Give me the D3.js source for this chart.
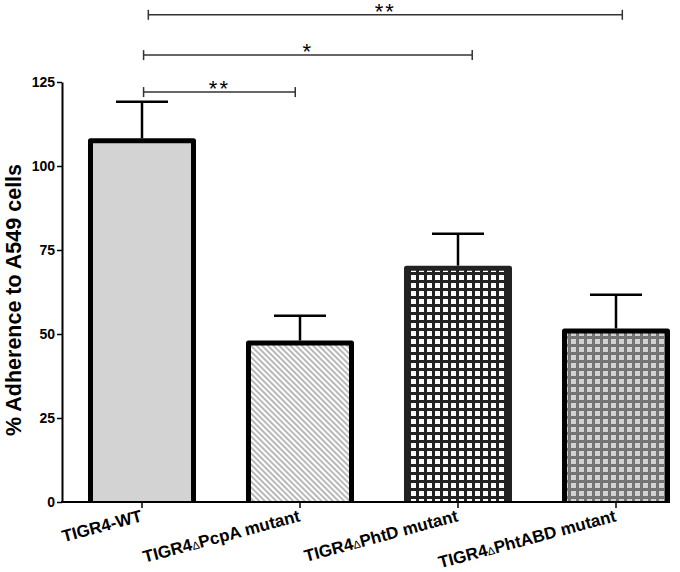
<!DOCTYPE html>
<html>
<head>
<meta charset="utf-8">
<script src="https://cdn.jsdelivr.net/npm/d3@7"></script>
<style>
  html, body { margin: 0; padding: 0; background: #fff; }
  svg { display: block; }
  text { font-family: "Liberation Sans", Arial, Helvetica, sans-serif; }
</style>
</head>
<body>
<div id="chart"></div>
<script>
// ---- data ----
const categories = ["TIGR4-WT", "TIGR4\u0394PcpA mutant", "TIGR4\u0394PhtD mutant", "TIGR4\u0394PhtABD mutant"];
const means = [107.5, 47.3, 69.6, 50.9];
const errors = [11.6, 8.1, 10.2, 10.8];
const yTicks = [0, 25, 50, 75, 100, 125];
const yTitle = "% Adherence to A549 cells";
const bracketFrom = [0.01, 0.01, 0.04];   // in category-position units
const bracketTo = [0.97, 2.09, 3.04];
const bracketY = [122, 133, 145];
const bracketLabel = ["**", "*", "**"];

// ---- layout ----
const W = 680, H = 572;
const svg = d3.select("#chart").append("svg").attr("width", W).attr("height", H);

const x = d3.scaleBand().domain(categories).range([63, 695]).paddingInner(0.348).paddingOuter(0.174);
const y = d3.scaleLinear().domain([0, 125]).range([502, 82]);
const pos = d3.scaleLinear().domain([0, 1])
  .range([x(categories[0]) + x.bandwidth() / 2, x(categories[1]) + x.bandwidth() / 2]);

// ---- patterns ----
const defs = svg.append("defs");
const hatch = defs.append("pattern").attr("id", "hatch").attr("patternUnits", "userSpaceOnUse")
  .attr("width", 4).attr("height", 4).attr("patternTransform", "rotate(-45)");
hatch.append("rect").attr("width", 4).attr("height", 4).attr("fill", "#fff");
hatch.append("line").attr("x1", 1).attr("y1", 0).attr("x2", 1).attr("y2", 4)
  .attr("stroke", "#9a9a9a").attr("stroke-width", 1.4);

function grid(id, lineCol, bgCol) {
  const p = defs.append("pattern").attr("id", id).attr("patternUnits", "userSpaceOnUse")
    .attr("width", 8).attr("height", 8);
  p.append("rect").attr("width", 8).attr("height", 8).attr("fill", lineCol);
  p.append("rect").attr("x", 3).attr("y", 3).attr("width", 5).attr("height", 5).attr("fill", bgCol);
}
grid("gridDark", "#222", "#fff");
grid("gridGray", "#747474", "#d2d2d2");

const fills = ["#d3d3d3", "url(#hatch)", "url(#gridDark)", "url(#gridGray)"];
const strokes = ["#000", "#000", "#222", "#000"];

// ---- bars ----
const bars = svg.append("g");
categories.forEach((c, i) => {
  const x0 = x(c), x1 = x(c) + x.bandwidth();
  bars.append("rect").attr("x", x0).attr("y", y(means[i]))
    .attr("width", x.bandwidth()).attr("height", y(0) - y(means[i]))
    .attr("fill", fills[i]);
  bars.append("path")
    .attr("d", `M${x0},${y(0)}V${y(means[i])}H${x1}V${y(0)}`)
    .attr("fill", "none").attr("stroke", strokes[i]).attr("stroke-width", 5)
    .attr("stroke-linejoin", "round");
  // error bar (upper)
  const cx = x(c) + x.bandwidth() / 2;
  const top = y(means[i] + errors[i]);
  bars.append("line").attr("x1", cx).attr("x2", cx).attr("y1", y(means[i]) - 2.5).attr("y2", top)
    .attr("stroke", "#000").attr("stroke-width", 2.5);
  bars.append("line").attr("x1", cx - 26).attr("x2", cx + 26).attr("y1", top).attr("y2", top)
    .attr("stroke", "#000").attr("stroke-width", 2.5);
});

// ---- y axis ----
const yAxis = svg.append("g").attr("transform", `translate(62,0)`)
  .call(d3.axisLeft(y).tickValues(yTicks).tickSize(5).tickSizeOuter(0).tickPadding(2));
yAxis.select(".domain").attr("stroke-width", 2);
yAxis.selectAll(".tick line").attr("stroke-width", 1.5);
yAxis.selectAll(".tick text").attr("font-size", 14).attr("font-weight", "bold").attr("fill", "#000")
  .attr("font-family", "'Liberation Sans', Arial, sans-serif");

svg.append("text")
  .attr("transform", `translate(21,300) rotate(-90)`)
  .attr("text-anchor", "middle").attr("font-size", 21.5).attr("font-weight", "bold")
  .text(yTitle);

// ---- x axis ----
const lastBand = x(categories[categories.length - 1]) + x.bandwidth();
svg.append("line").attr("x1", 61).attr("x2", lastBand + 2.5).attr("y1", y(0)).attr("y2", y(0))
  .attr("stroke", "#000").attr("stroke-width", 2);
const xAxis = svg.append("g").attr("transform", `translate(0,${y(0)})`)
  .call(d3.axisBottom(x).tickSize(6).tickFormat(""));
xAxis.select(".domain").remove();
xAxis.selectAll(".tick line").attr("stroke-width", 1.5);

categories.forEach((c) => {
  const cx = x(c) + x.bandwidth() / 2;
  const t = svg.append("text")
    .attr("transform", `translate(${cx + 1},${y(0) + 19}) rotate(-15)`)
    .attr("text-anchor", "end").attr("font-size", 17).attr("font-weight", "bold");
  const parts = c.split("\u0394");
  t.append("tspan").text(parts[0]);
  if (parts.length > 1) {
    t.append("tspan").attr("font-size", 11).attr("font-weight", "normal").text("\u0394");
    t.append("tspan").text(parts[1]);
  }
});

// ---- significance brackets ----
const br = svg.append("g");
bracketY.forEach((v, i) => {
  const xa = pos(bracketFrom[i]), xb = pos(bracketTo[i]), yy = y(v);
  br.append("line").attr("x1", xa).attr("x2", xb).attr("y1", yy).attr("y2", yy)
    .attr("stroke", "#333").attr("stroke-width", 1.5);
  [xa, xb].forEach(xx => br.append("line").attr("x1", xx).attr("x2", xx)
    .attr("y1", yy - 5).attr("y2", yy + 5).attr("stroke", "#333").attr("stroke-width", 1.5));
  br.append("text").attr("x", (xa + xb) / 2).attr("y", yy + 4)
    .attr("text-anchor", "middle").attr("font-size", 22).attr("letter-spacing", 2)
    .text(bracketLabel[i]);
});
</script>
</body>
</html>
